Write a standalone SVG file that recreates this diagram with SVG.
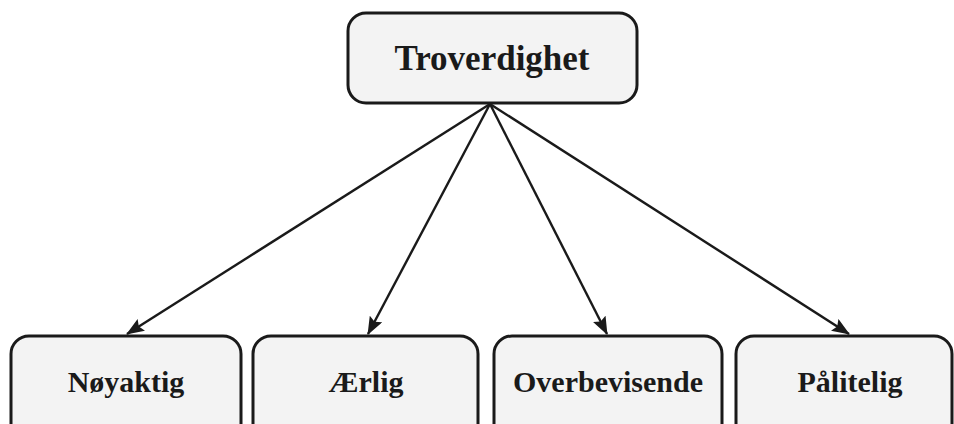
<svg xmlns="http://www.w3.org/2000/svg" width="954" height="424" viewBox="0 0 954 424">
<style>
.box{fill:#f3f3f3;stroke:#1a1a1a;stroke-width:3}
.lbl{font-family:"Liberation Serif","Times New Roman",serif;font-weight:bold;fill:#1a1a1a;text-anchor:middle}
.edge{stroke:#1a1a1a;stroke-width:2.4;fill:none;marker-end:url(#ah)}
</style>
<defs>
<marker id="ah" markerWidth="18" markerHeight="14" refX="17" refY="7" orient="auto" markerUnits="userSpaceOnUse" viewBox="0 0 18 14">
<path d="M0,0 L18,7 L0,14 L3,7 z" fill="#1a1a1a"/>
</marker>
</defs>
<rect width="954" height="424" fill="#ffffff"/>
<g id="connectors">
<path class="edge" d="M490,104 L127,334"/>
<path class="edge" d="M490,104 L368,334"/>
<path class="edge" d="M490,104 L607,334"/>
<path class="edge" d="M490,104 L849,334"/>
</g>
<g id="troverdighet">
<rect class="box" x="348" y="13" width="289" height="90" rx="18"/>
<text class="lbl" x="492" y="70" font-size="35">Troverdighet</text>
</g>
<g id="noyaktig">
<rect class="box" x="11" y="336" width="230" height="110" rx="18"/>
<text class="lbl" x="126" y="392" font-size="30">Nøyaktig</text>
</g>
<g id="aerlig">
<rect class="box" x="253" y="336" width="225" height="110" rx="18"/>
<text class="lbl" x="366" y="392" font-size="30">Ærlig</text>
</g>
<g id="overbevisende">
<rect class="box" x="494" y="336" width="228" height="110" rx="18"/>
<text class="lbl" x="608" y="392" font-size="30">Overbevisende</text>
</g>
<g id="palitelig">
<rect class="box" x="736" y="336" width="216" height="110" rx="18"/>
<text class="lbl" x="850" y="392" font-size="30">Pålitelig</text>
</g>
</svg>
